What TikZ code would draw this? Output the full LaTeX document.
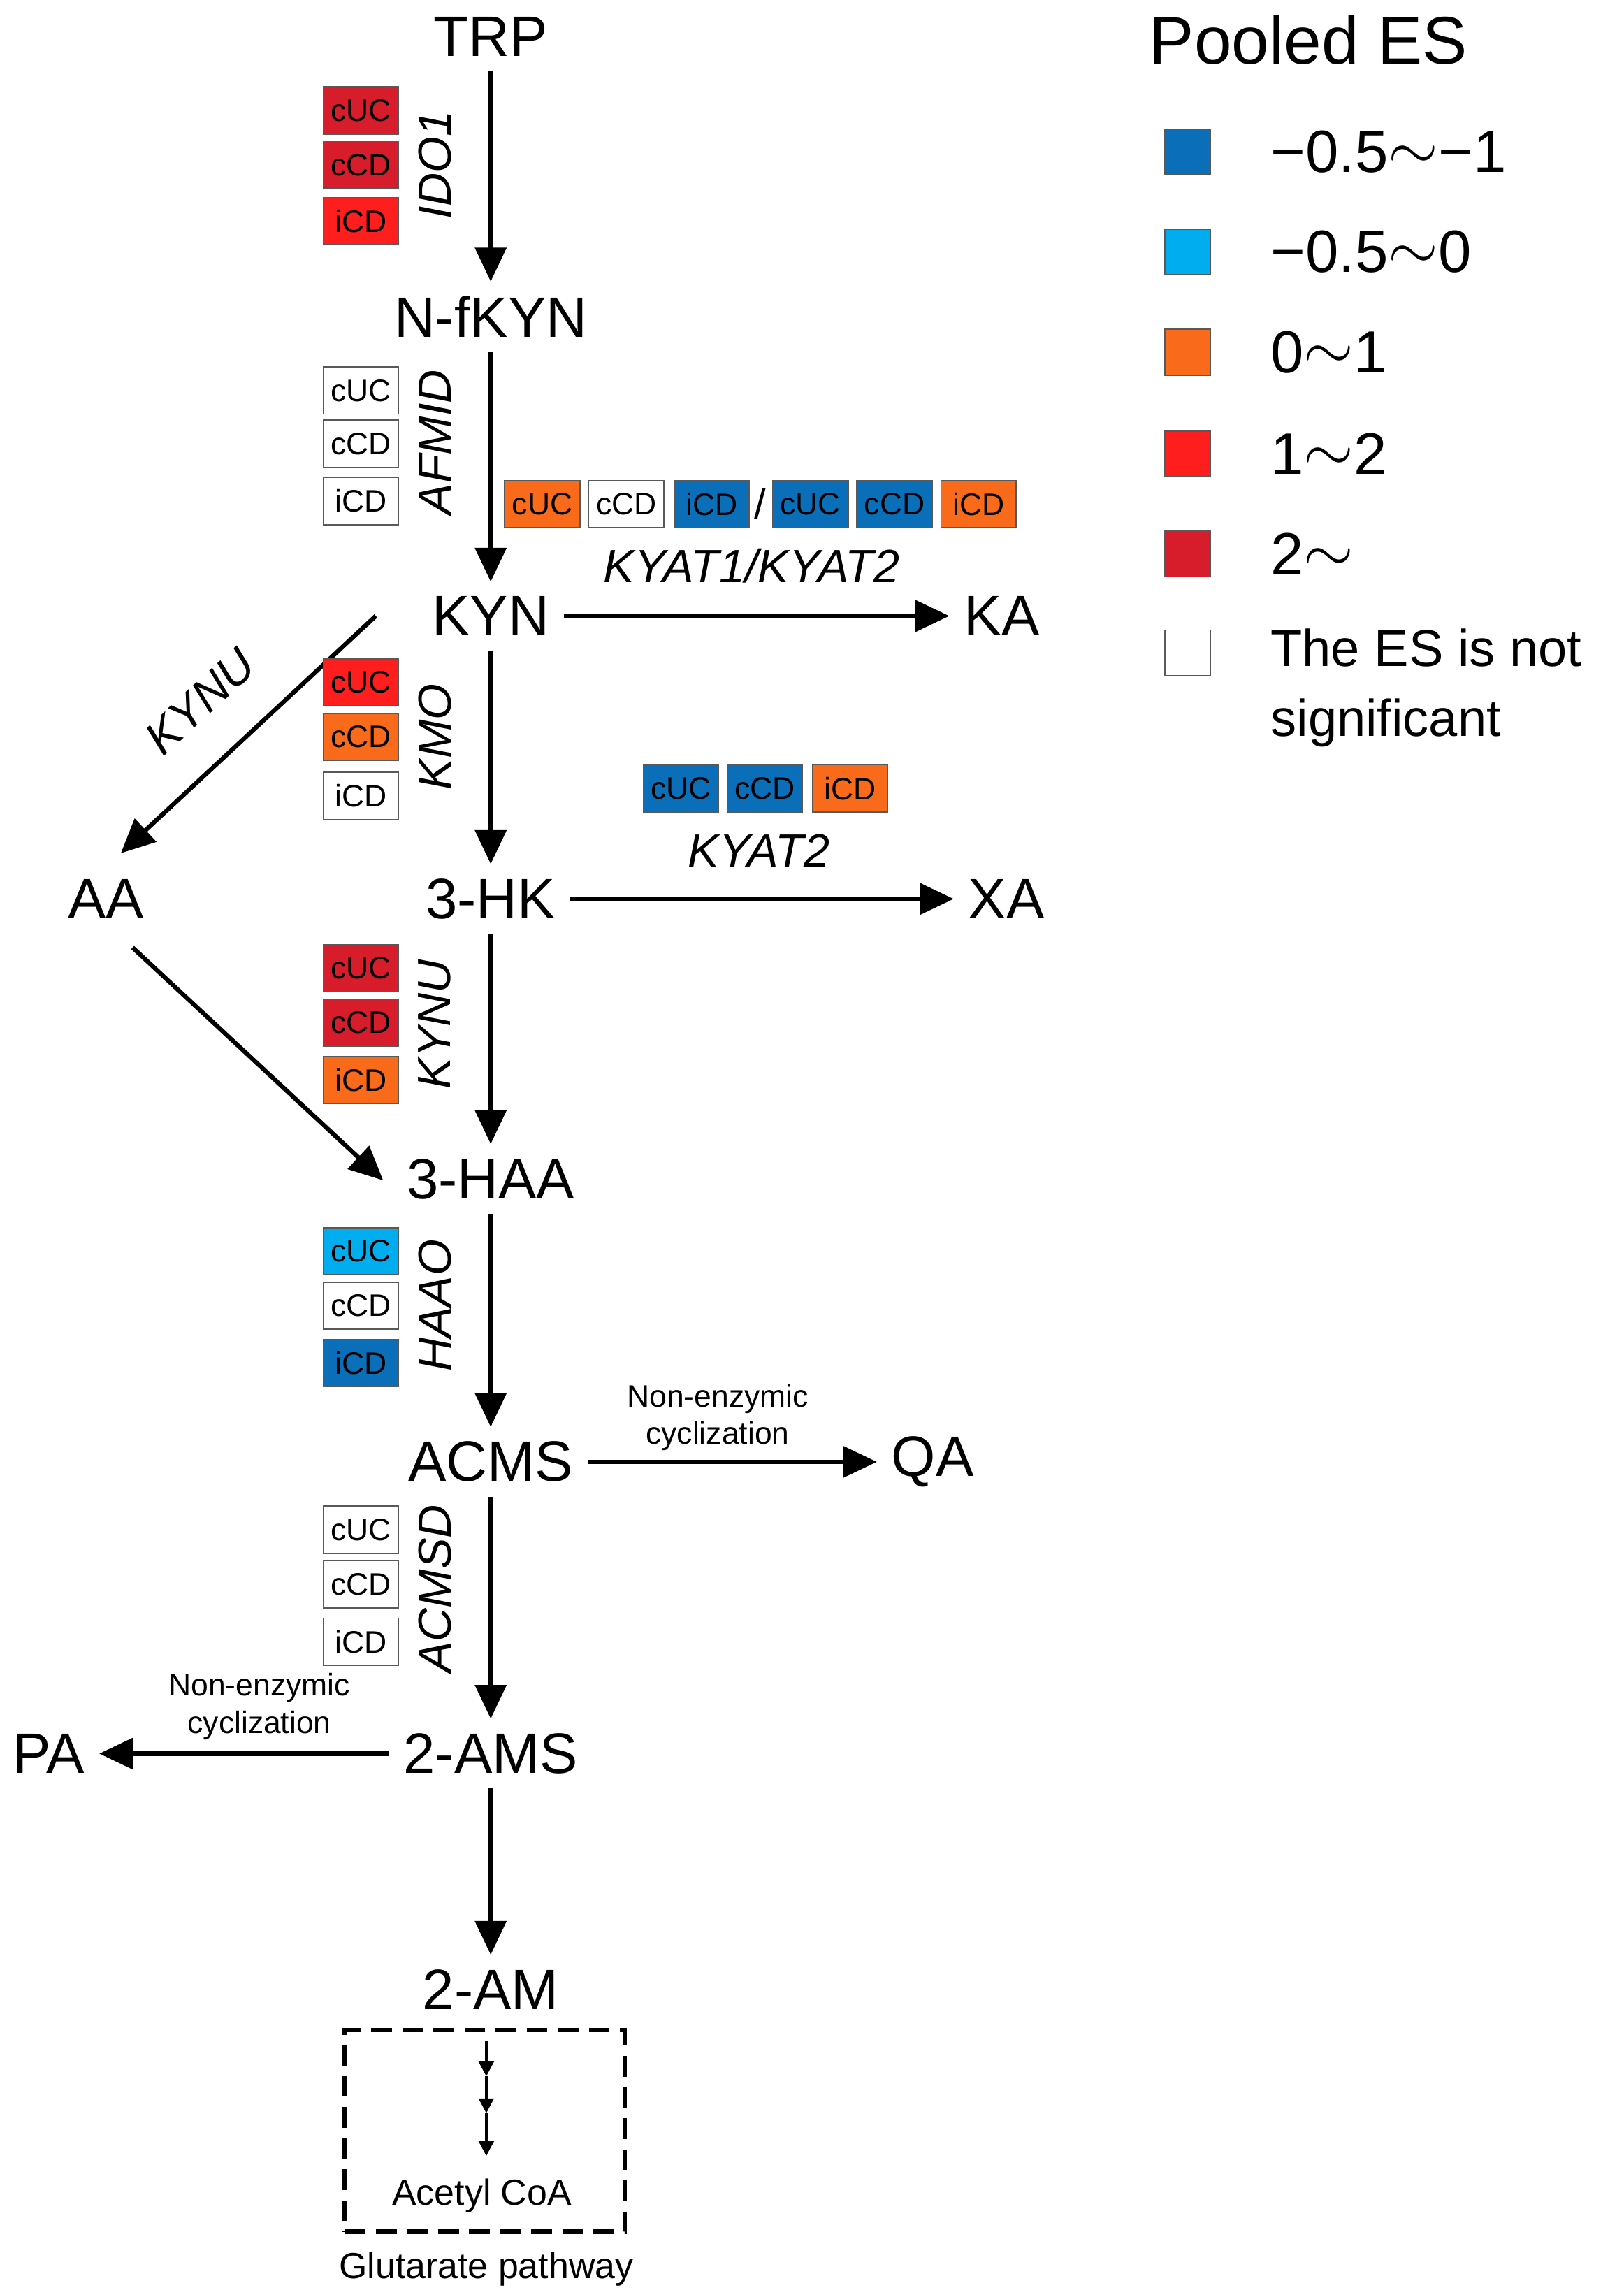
\documentclass[tikz,border=0pt]{standalone}
\usepackage{fontspec}
\setmainfont{Liberation Sans}
\usetikzlibrary{arrows.meta}
\definecolor{dblue}{HTML}{0A6EB8}
\definecolor{lblue}{HTML}{00AEEF}
\definecolor{orng}{HTML}{F96A1B}
\definecolor{rd}{HTML}{FF1E1E}
\definecolor{drd}{HTML}{D71C2C}
\newcommand{\tl}{\raisebox{0.1ex}{\(\sim\)}}
\begin{document}
\begin{tikzpicture}[x=0.02cm,y=-0.02cm,
  met/.style={font=\fontsize{22}{26}\selectfont,inner sep=0pt,outer sep=0.2cm},
  esb/.style={draw=gray!70!black,line width=0.5pt,minimum width=1.02cm,minimum height=0.64cm,inner sep=0pt,font=\fontsize{12}{14}\selectfont},
  enz/.style={font=\fontsize{18}{22}\selectfont\itshape,inner sep=0pt},
  enzr/.style={enz,rotate=90},
  small/.style={font=\fontsize{12}{14.5}\selectfont,align=center,inner sep=0pt},
  arr/.style={line width=1.7pt,-{Triangle[length=0.46cm,width=0.42cm]}},
  sarr/.style={line width=1.1pt,-{Triangle[length=0.2cm,width=0.2cm]}},
  leg/.style={font=\fontsize{23}{28}\selectfont,anchor=west,inner sep=0pt,align=left},
  lsq/.style={draw=gray!70!black,line width=0.5pt,minimum size=0.62cm,inner sep=0pt}]
\useasboundingbox (0,0) rectangle (1102,1554);
% metabolites
\node[met] (trp) at (333,25) {TRP};
\node[met] (nf) at (333,215) {N-fKYN};
\node[met] (kyn) at (333,418) {KYN};
\node[met] (ka) at (680,418) {KA};
\node[met] (hk) at (333,610) {3-HK};
\node[met] (aa) at (72,610) {AA};
\node[met] (xa) at (683,610) {XA};
\node[met] (haa) at (333,800) {3-HAA};
\node[met] (acms) at (333,992) {ACMS};
\node[met] (qa) at (633,992) {QA};
\node[met] (ams) at (333,1190) {2-AMS};
\node[met] (pa) at (33,1190) {PA};
\node[met] (am) at (333,1350) {2-AM};
% arrows
\draw[arr] (trp) -- (nf);
\draw[arr] (nf) -- (kyn);
\draw[arr] (kyn) -- (ka);
\draw[arr] (kyn) -- (hk);
\coordinate (kynl) at (255,418);
\coordinate (aat) at (82,579);
\draw[arr] (kynl) -- (aat);
\draw[arr] (hk) -- (xa);
\draw[arr] (hk) -- (haa);
\coordinate (aas) at (90,643);
\coordinate (haal) at (260,801);
\draw[arr] (aas) -- (haal);
\draw[arr] (haa) -- (acms);
\draw[arr] (acms) -- (qa);
\draw[arr] (acms) -- (ams);
\draw[arr] (ams) -- (pa);
\draw[arr] (ams) -- (am);
% dashed box
\node[draw,line width=1.8pt,dash pattern=on 8pt off 4pt,minimum width=3.8cm,minimum height=2.74cm] (gbox) at (329,1446) {};
\coordinate (s0) at (330,1385);
\coordinate (s1) at (330,1409);
\coordinate (s2) at (330,1434);
\coordinate (s3) at (330,1463);
\draw[sarr] (s0) -- (s1);
\draw[sarr] (s1) -- (s2);
\draw[sarr] (s2) -- (s3);
\node[font=\fontsize{14}{16}\selectfont] (acoa) at (327,1490) {Acetyl CoA};
\node[font=\fontsize{14}{16}\selectfont] (glut) at (330,1540) {Glutarate pathway};
% enzyme labels
\node[enzr] (ido) at (295,112) {IDO1};
\node[enzr] (afmid) at (295,300) {AFMID};
\node[enzr] (kmo) at (295,500) {KMO};
\node[enzr] (kynu2) at (295,695) {KYNU};
\node[enzr] (haao) at (295,886) {HAAO};
\node[enzr] (acmsd) at (295,1078) {ACMSD};
\node[enz] (kyat12) at (510,384) {KYAT1/KYAT2};
\node[enz] (kyat2) at (515,577) {KYAT2};
\node[enz,rotate=42.5] (kynu1) at (136,476) {KYNU};
\node[small] (ne1) at (487,962) {Non-enzymic\\cyclization};
\node[small] (ne2) at (176,1158) {Non-enzymic\\cyclization};
% ES boxes
\node[esb,fill=drd] (b1) at (245,75) {cUC};
\node[esb,fill=drd] (b2) at (245,112) {cCD};
\node[esb,fill=rd] (b3) at (245,150) {iCD};
\node[esb,fill=white] (b4) at (245,265) {cUC};
\node[esb,fill=white] (b5) at (245,301) {cCD};
\node[esb,fill=white] (b6) at (245,340) {iCD};
\node[esb,fill=orng] (b7) at (368,342) {cUC};
\node[esb,fill=white] (b8) at (425,342) {cCD};
\node[esb,fill=dblue] (b9) at (483,342) {iCD};
\node[font=\fontsize{16}{18}\selectfont] (sl) at (516,342) {/};
\node[esb,fill=dblue] (b10) at (550,342) {cUC};
\node[esb,fill=dblue] (b11) at (607,342) {cCD};
\node[esb,fill=orng] (b12) at (664,342) {iCD};
\node[esb,fill=rd] (b13) at (245,463) {cUC};
\node[esb,fill=orng] (b14) at (245,500) {cCD};
\node[esb,fill=white] (b15) at (245,540) {iCD};
\node[esb,fill=dblue] (b16) at (462,535) {cUC};
\node[esb,fill=dblue] (b17) at (519,535) {cCD};
\node[esb,fill=orng] (b18) at (577,535) {iCD};
\node[esb,fill=drd] (b19) at (245,657) {cUC};
\node[esb,fill=drd] (b20) at (245,694) {cCD};
\node[esb,fill=orng] (b21) at (245,733) {iCD};
\node[esb,fill=lblue] (b22) at (245,849) {cUC};
\node[esb,fill=white] (b23) at (245,886) {cCD};
\node[esb,fill=dblue] (b24) at (245,925) {iCD};
\node[esb,fill=white] (b25) at (245,1038) {cUC};
\node[esb,fill=white] (b26) at (245,1075) {cCD};
\node[esb,fill=white] (b27) at (245,1114) {iCD};
% legend
\node[font=\fontsize{26}{30}\selectfont] (ptitle) at (888,27) {Pooled ES};
\node[lsq,fill=dblue] (l1) at (806,103) {};
\node[lsq,fill=lblue] (l2) at (806,171) {};
\node[lsq,fill=orng] (l3) at (806,239) {};
\node[lsq,fill=rd] (l4) at (806,308) {};
\node[lsq,fill=drd] (l5) at (806,376) {};
\node[lsq,fill=white] (l6) at (806,443) {};
\node[leg] (t1) at (862,103) {−0.5\tl−1};
\node[leg] (t2) at (862,171) {−0.5\tl0};
\node[leg] (t3) at (862,239) {0\tl1};
\node[leg] (t4) at (862,308) {1\tl2};
\node[leg] (t5) at (862,376) {2\tl};
\node[leg,font=\fontsize{20}{27}\selectfont] (t6) at (862,467) {The ES is not\\significant};
\end{tikzpicture}
\end{document}
